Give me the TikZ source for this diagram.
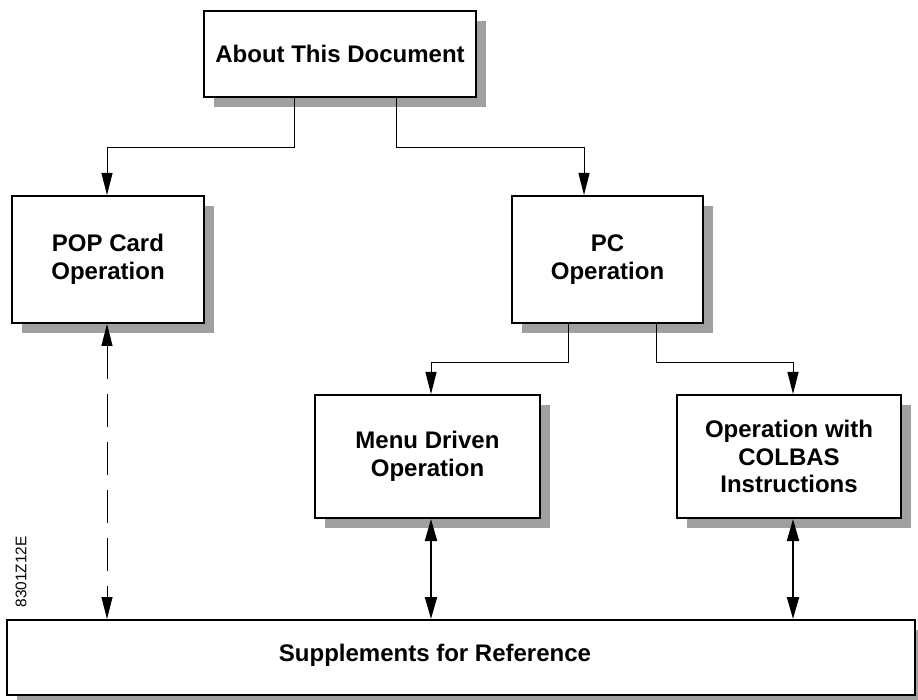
\documentclass[tikz,border=0pt]{standalone}
\usepackage{fontspec}
\setmainfont{Liberation Sans}
\usetikzlibrary{arrows.meta,shadows,calc}
\definecolor{shadowgray}{HTML}{A0A0A0}
\begin{document}
\begin{tikzpicture}[x=1pt,y=-1pt,
  box/.style={draw=black, line width=2pt, fill=white, inner sep=0pt, align=center,
    font=\fontsize{24}{27.5}\selectfont\bfseries,
    drop shadow={shadow xshift=10pt, shadow yshift=-10pt, fill=shadowgray, opacity=1}},
  boxtext/.style={inner sep=0pt, align=center, font=\fontsize{24}{27.5}\selectfont\bfseries},
  tip/.style={},
  conn/.style={line width=1pt, -{Triangle[length=22pt,width=11pt]}},
  link/.style={line width=2pt, {Triangle[length=22pt,width=12pt]}-{Triangle[length=22pt,width=12pt]}},
  dlink/.style={line width=1pt, dash pattern=on 33pt off 15pt,
    {Triangle[length=22pt,width=11pt]}-{Triangle[length=22pt,width=11pt]}},
]
\useasboundingbox (0,0) rectangle (918,700);

% boxes
\node[box, minimum width=272pt, minimum height=86pt] (about) at (340,54) {About This Document};
\node[box, minimum width=192pt, minimum height=127pt] (pop) at (108,259.5) {POP Card\\Operation};
\node[box, minimum width=191pt, minimum height=127pt] (pc) at (607.5,259.5) {PC\\Operation};
\node[box, minimum width=225pt, minimum height=123pt] (menu) at (427.5,456.5) {Menu Driven\\Operation};
\node[box, minimum width=224pt, minimum height=123pt] (colbas) at (789,456.5) {Operation with\\COLBAS\\Instructions};
\node[box, minimum width=908pt, minimum height=75pt] (supp) at (461,657.5) {};
\node[boxtext] (supptext) at (435,655) {Supplements for Reference};

% drawing number
\node[rotate=90, inner sep=0pt, font=\fontsize{15.4}{17}\selectfont] (code) at (21,572) {8301Z12E};

% tree connectors
\draw[conn] ([xshift=-46pt]about.south) -- ++(0,50) -| ([xshift=-1pt]pop.north);
\draw[conn] ([xshift=56pt]about.south) -- ++(0,50) -| ([xshift=-23.5pt]pc.north);
\draw[conn] ([xshift=-39.5pt]pc.south) -- ++(0,39) -| ([xshift=3.5pt]menu.north);
\draw[conn] ([xshift=48.5pt]pc.south) -- ++(0,39) -| ([xshift=4pt]colbas.north);

% links to the supplements
\coordinate (p1) at ([xshift=-1pt]pop.south);
\coordinate (m1) at ([xshift=3.5pt]menu.south);
\coordinate (c1) at ([xshift=4pt]colbas.south);
\draw[dlink] (p1) -- (p1 |- supp.north);
\draw[link] (m1) -- (m1 |- supp.north);
\draw[link] (c1) -- (c1 |- supp.north);
\end{tikzpicture}
\end{document}
